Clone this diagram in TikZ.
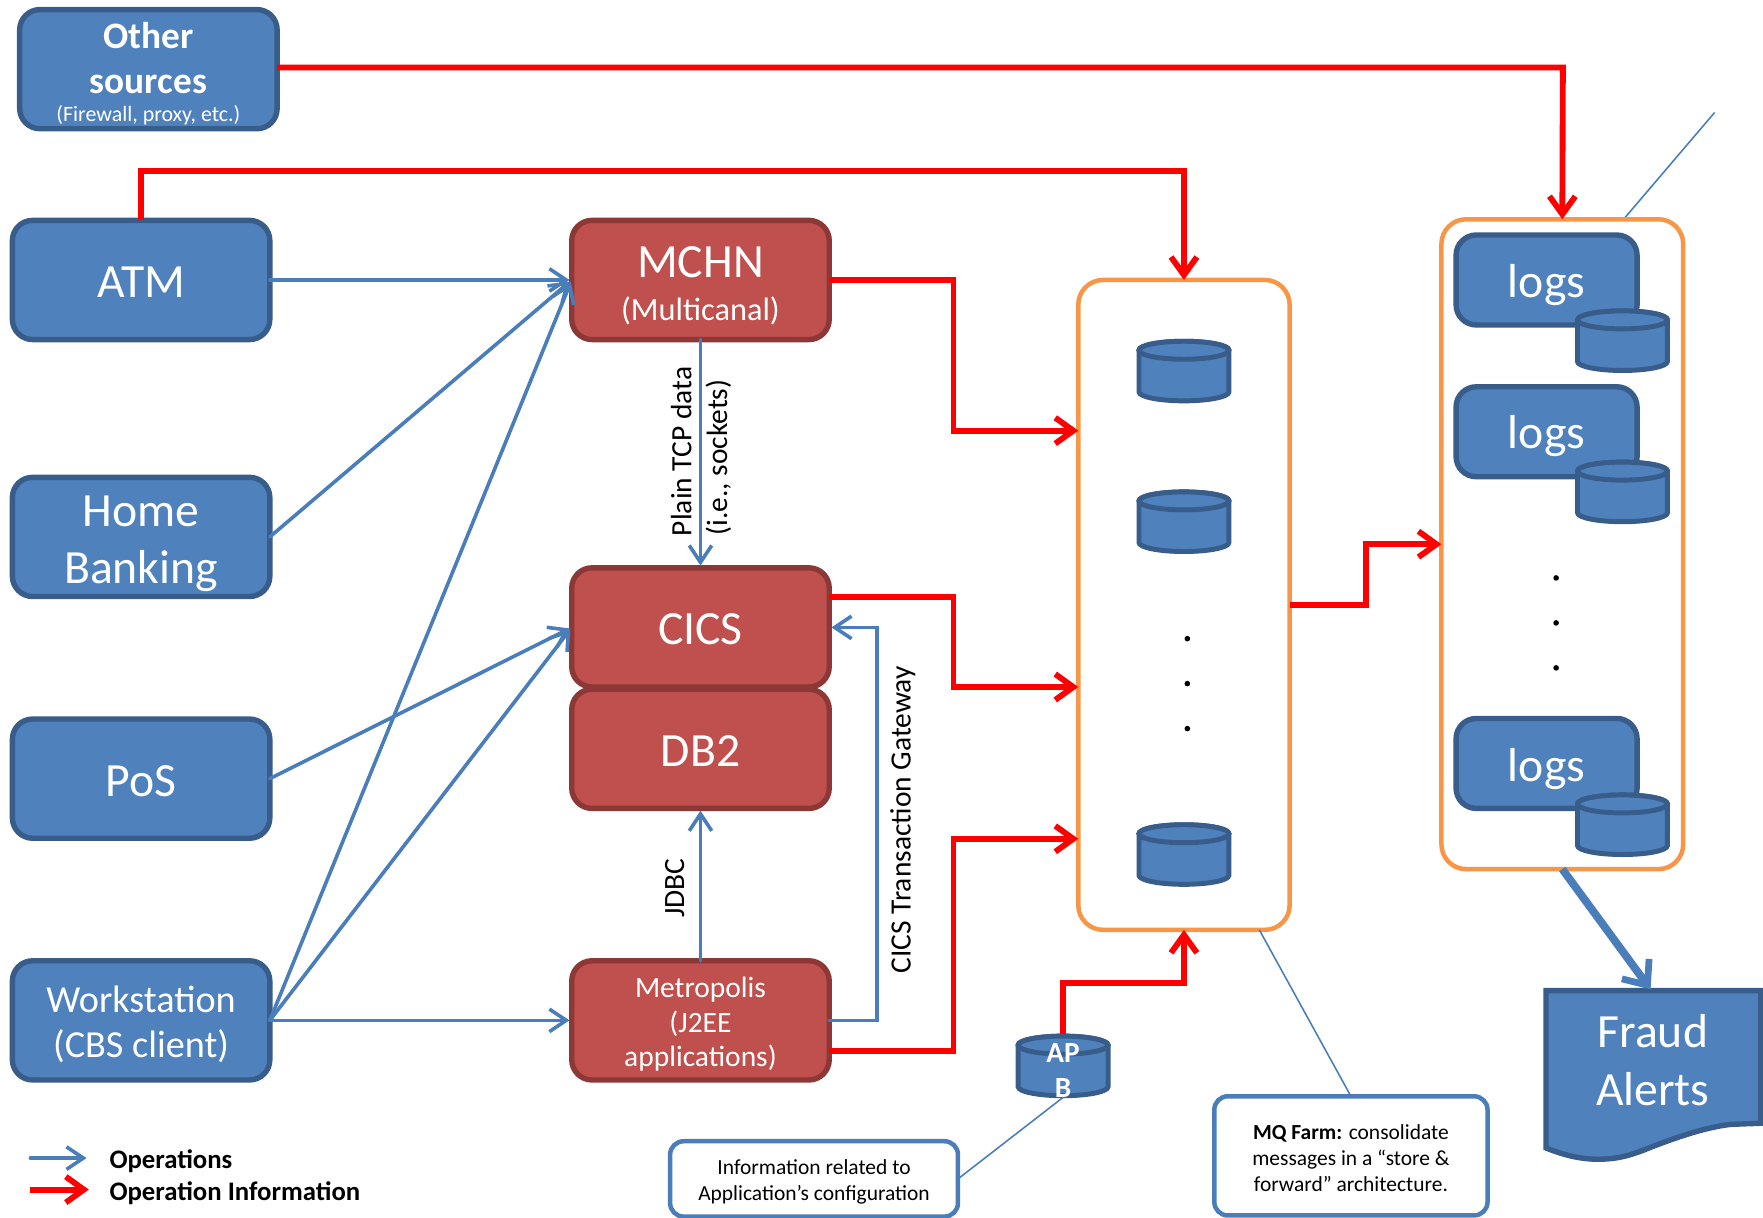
\documentclass[tikz,border=0pt]{standalone}
\usepackage{fontspec}
\setmainfont{Carlito}
\usetikzlibrary{arrows.meta,calc}
\definecolor{bfill}{HTML}{4F81BD}
\definecolor{bline}{HTML}{385D8A}
\definecolor{rfill}{HTML}{C0504D}
\definecolor{rline}{HTML}{8C3836}
\definecolor{oline}{HTML}{F79646}
\definecolor{conn}{HTML}{4A7EBB}
\newcommand{\fsz}[2]{\fontsize{#1}{#2}\selectfont}
\newcommand{\pad}[1]{\rule{0pt}{#1pt}}
% a drum: an empty named node (for connectors) with the drum drawn on it
\newcommand{\drum}[3]{%
  \node[canbox] (#1) at (#2,#3) {};
  \draw[canline] ($(#2,#3)+(-40,-18.5)$) -- ($(#2,#3)+(-40,18.5)$) arc[start angle=180,end angle=360,x radius=20pt,y radius=4pt] -- ($(#2,#3)+(40,-18.5)$) arc[start angle=0,end angle=180,x radius=20pt,y radius=4pt] -- cycle;
  \draw[canline] ($(#2,#3)+(0,-18.5)$) ellipse[x radius=20pt,y radius=4pt];
}
\tikzset{
  basebox/.style={rectangle,rounded corners=9pt,line width=2.4pt,minimum width=114.5pt,minimum height=53pt,inner sep=0pt,outer sep=0pt,text=white,align=center,font=\fsz{21.2}{25.7}},
  bluebox/.style={basebox,draw=bline,fill=bfill},
  redbox/.style={basebox,draw=rline,fill=rfill},
  logbox/.style={basebox,draw=bline,fill=bfill,minimum width=80.5pt,minimum height=40pt,font=\fsz{21.2}{25}},
  farm/.style={rectangle,rounded corners=11pt,line width=2pt,draw=oline,fill=white,inner sep=0pt,outer sep=0pt},
  canbox/.style={rectangle,minimum width=41pt,minimum height=28pt,inner sep=0pt,outer sep=0pt},
  canline/.style={draw=bline,fill=bfill,line width=2.2pt},
  note/.style={rectangle,rounded corners=6pt,line width=2pt,draw=conn,fill=white,inner sep=0pt,outer sep=0pt,text=black,align=center,font=\fsz{9.55}{11.5}},
  dotmark/.style={circle,fill=black,minimum size=2.5pt,inner sep=0pt},
  oparrow/.style={draw=conn,line width=1.6pt,line cap=round,shorten >=1pt,-{Straight Barb[length=7.5pt,width=10pt,line width=1.6pt]}},
  inforarrow/.style={draw=red,line width=2.6pt,line join=miter,-{Straight Barb[length=8pt,width=11.5pt,line width=2.6pt]}},
  thinline/.style={draw=conn,line width=0.7pt},
  vlabel/.style={rotate=90,text=black,font=\fsz{13.1}{15},inner sep=0pt}
}
\begin{document}
\begin{tikzpicture}[x=0.5pt,y=-0.5pt]
\useasboundingbox (0,0) rectangle (1568,1082.4);

% thin callout leaders
\coordinate (farttop) at (1525,100);
\coordinate (logstouch) at (1444,195);
\draw[thinline] (logstouch) -- (farttop);

% source boxes
\node[bluebox,font=\fsz{16.6}{20}\bfseries] (other) at (132,61.5) {\pad{15.5}Other\\sources\\[-7.5pt]\fsz{9.75}{10}\mdseries(Firewall, proxy, etc.)};
\node[bluebox] (atm) at (125.5,249) {\pad{15.6}ATM};
\node[bluebox] (home) at (125.5,477.5) {\pad{19.7}Home\\Banking};
\node[bluebox] (pos) at (125.5,692.5) {\pad{15.6}PoS};
\node[bluebox,font=\fsz{17}{20}] (ws) at (125.5,907.5) {\pad{15.4}Workstation\\(CBS client)};

% central boxes
\node[redbox] (mchn) at (623,249) {\pad{19.2}MCHN\\[-6.5pt]\fsz{14.4}{16}(Multicanal)};
\node[redbox] (db2) at (623,666) {\pad{15.6}DB2};
\node[redbox] (cics) at (623,558) {\pad{15.6}CICS};
\node[redbox,font=\fsz{13.1}{15.5}] (metro) at (623,907.5) {\pad{12.5}Metropolis\\(J2EE\\applications)};

% MQ farm
\node[farm,minimum width=94pt,minimum height=289pt] (mq) at (1053,538) {};
\drum{c1}{1053}{330}
\drum{c2}{1053}{464}
\drum{c3}{1053}{760}
\node[dotmark] (d1) at (1056,568) {};
\node[dotmark] (d2) at (1056,608) {};
\node[dotmark] (d3) at (1056,648) {};

% log farm
\node[farm,minimum width=107.5pt,minimum height=289pt] (lf) at (1389.5,484) {};
\node[logbox] (l1) at (1375.5,249) {\pad{19.5}logs};
\drum{lc1}{1443}{303}
\node[logbox] (l2) at (1375.5,384) {\pad{18.5}logs};
\drum{lc2}{1443}{437.5}
\node[logbox] (l3) at (1375.5,679) {\pad{19.5}logs};
\drum{lc3}{1443}{733.5}
\node[dotmark] (e1) at (1384,514) {};
\node[dotmark] (e2) at (1384,554) {};
\node[dotmark] (e3) at (1384,594) {};

% APB
\drum{apb}{945.5}{948}
\node[text=white,align=center,font=\fsz{13}{15.5}\bfseries,inner sep=0pt] (apbt) at (945.5,952) {AP\\B};

% Fraud alerts
\draw[line width=2.4pt,draw=bline,fill=bfill,line join=miter] (1375,881) -- (1566,881) -- (1566,999) -- (1539,1000) .. controls (1515,1003) and (1490,1012) .. (1469,1020) .. controls (1452,1027) and (1440,1031) .. (1421,1031) .. controls (1405,1031) and (1390,1027) .. (1375,1021) -- cycle;
\node[text=white,align=center,font=\fsz{21.2}{26},inner sep=0pt] (fraud) at (1470,943) {Fraud\\Alerts};
\coordinate (fraudtop) at (1468,880);

% notes
\node[note,minimum width=128pt,minimum height=33.5pt] (info) at (724,1048.5) {\pad{9}Information related to\\Application’s configuration};
\node[note,minimum width=121.5pt,minimum height=53pt] (mqn) at (1201.5,1028) {\pad{8.5}\textbf{MQ Farm:} consolidate\\messages in a “store \&\\forward” architecture.};
\draw[thinline] (info.east) -- (apb.south);
\coordinate (mqtouch) at (1120,827);
\draw[thinline] (mqtouch) -- (mqn.north);

% blue connectors
\draw[oparrow] (atm.east) -- (mchn.west);
\draw[oparrow] (home.east) -- (mchn.west);
\draw[oparrow] (ws.east) -- (mchn.west);
\draw[oparrow] (pos.east) -- (cics.west);
\draw[oparrow] (ws.east) -- (cics.west);
\draw[oparrow] (ws.east) -- (metro.west);
\draw[oparrow] (mchn.south) -- (cics.north);
\draw[oparrow] (metro.north) -- (db2.south);
\draw[oparrow] (metro.east) -- (780,907.5) -- (780,558) -- (cics.east);
\draw[draw=conn,line width=3.5pt,-{Straight Barb[length=9pt,width=15pt,line width=3pt]}] (lf.south) -- (fraudtop);

% red connectors
\draw[inforarrow] (other.east |- 0,60) -- (1390,60) -- (lf.north);
\draw[inforarrow] (atm.north) -- (125.5,152) -- (1053,152) -- (mq.north);
\draw[inforarrow] (mchn.east) -- (848,249) -- (848,383) -- (mq.west |- 0,383);
\draw[inforarrow] (cics.east |- 0,531) -- (848,531) -- (848,611) -- (mq.west |- 0,611);
\draw[inforarrow] (metro.east |- 0,935) -- (848,935) -- (848,746) -- (mq.west |- 0,746);
\draw[inforarrow] (mq.east) -- (1215,538) -- (1215,484) -- (lf.west);
\draw[inforarrow] (apb.north) -- (945.5,874) -- (1053,874) -- (mq.south);

% connector labels
\node[vlabel] (t1) at (606,401.5) {Plain TCP data};
\node[vlabel] (t2) at (639,407) {(i.e., sockets)};
\node[vlabel] (t3) at (600,790) {JDBC};
\node[vlabel] (t4) at (803,729) {CICS Transaction Gateway};

% legend
\coordinate (la1) at (27,1030);
\coordinate (la2) at (79,1030);
\coordinate (lb1) at (27,1058);
\coordinate (lb2) at (79,1058);
\draw[oparrow] (la1) -- (la2);
\draw[inforarrow] (lb1) -- (lb2);
\node[anchor=west,font=\fsz{11.9}{13}\bfseries,inner sep=0pt] (lt1) at (97,1033) {Operations};
\node[anchor=west,font=\fsz{11.9}{13}\bfseries,inner sep=0pt] (lt2) at (97,1061) {Operation Information};
\end{tikzpicture}
\end{document}
